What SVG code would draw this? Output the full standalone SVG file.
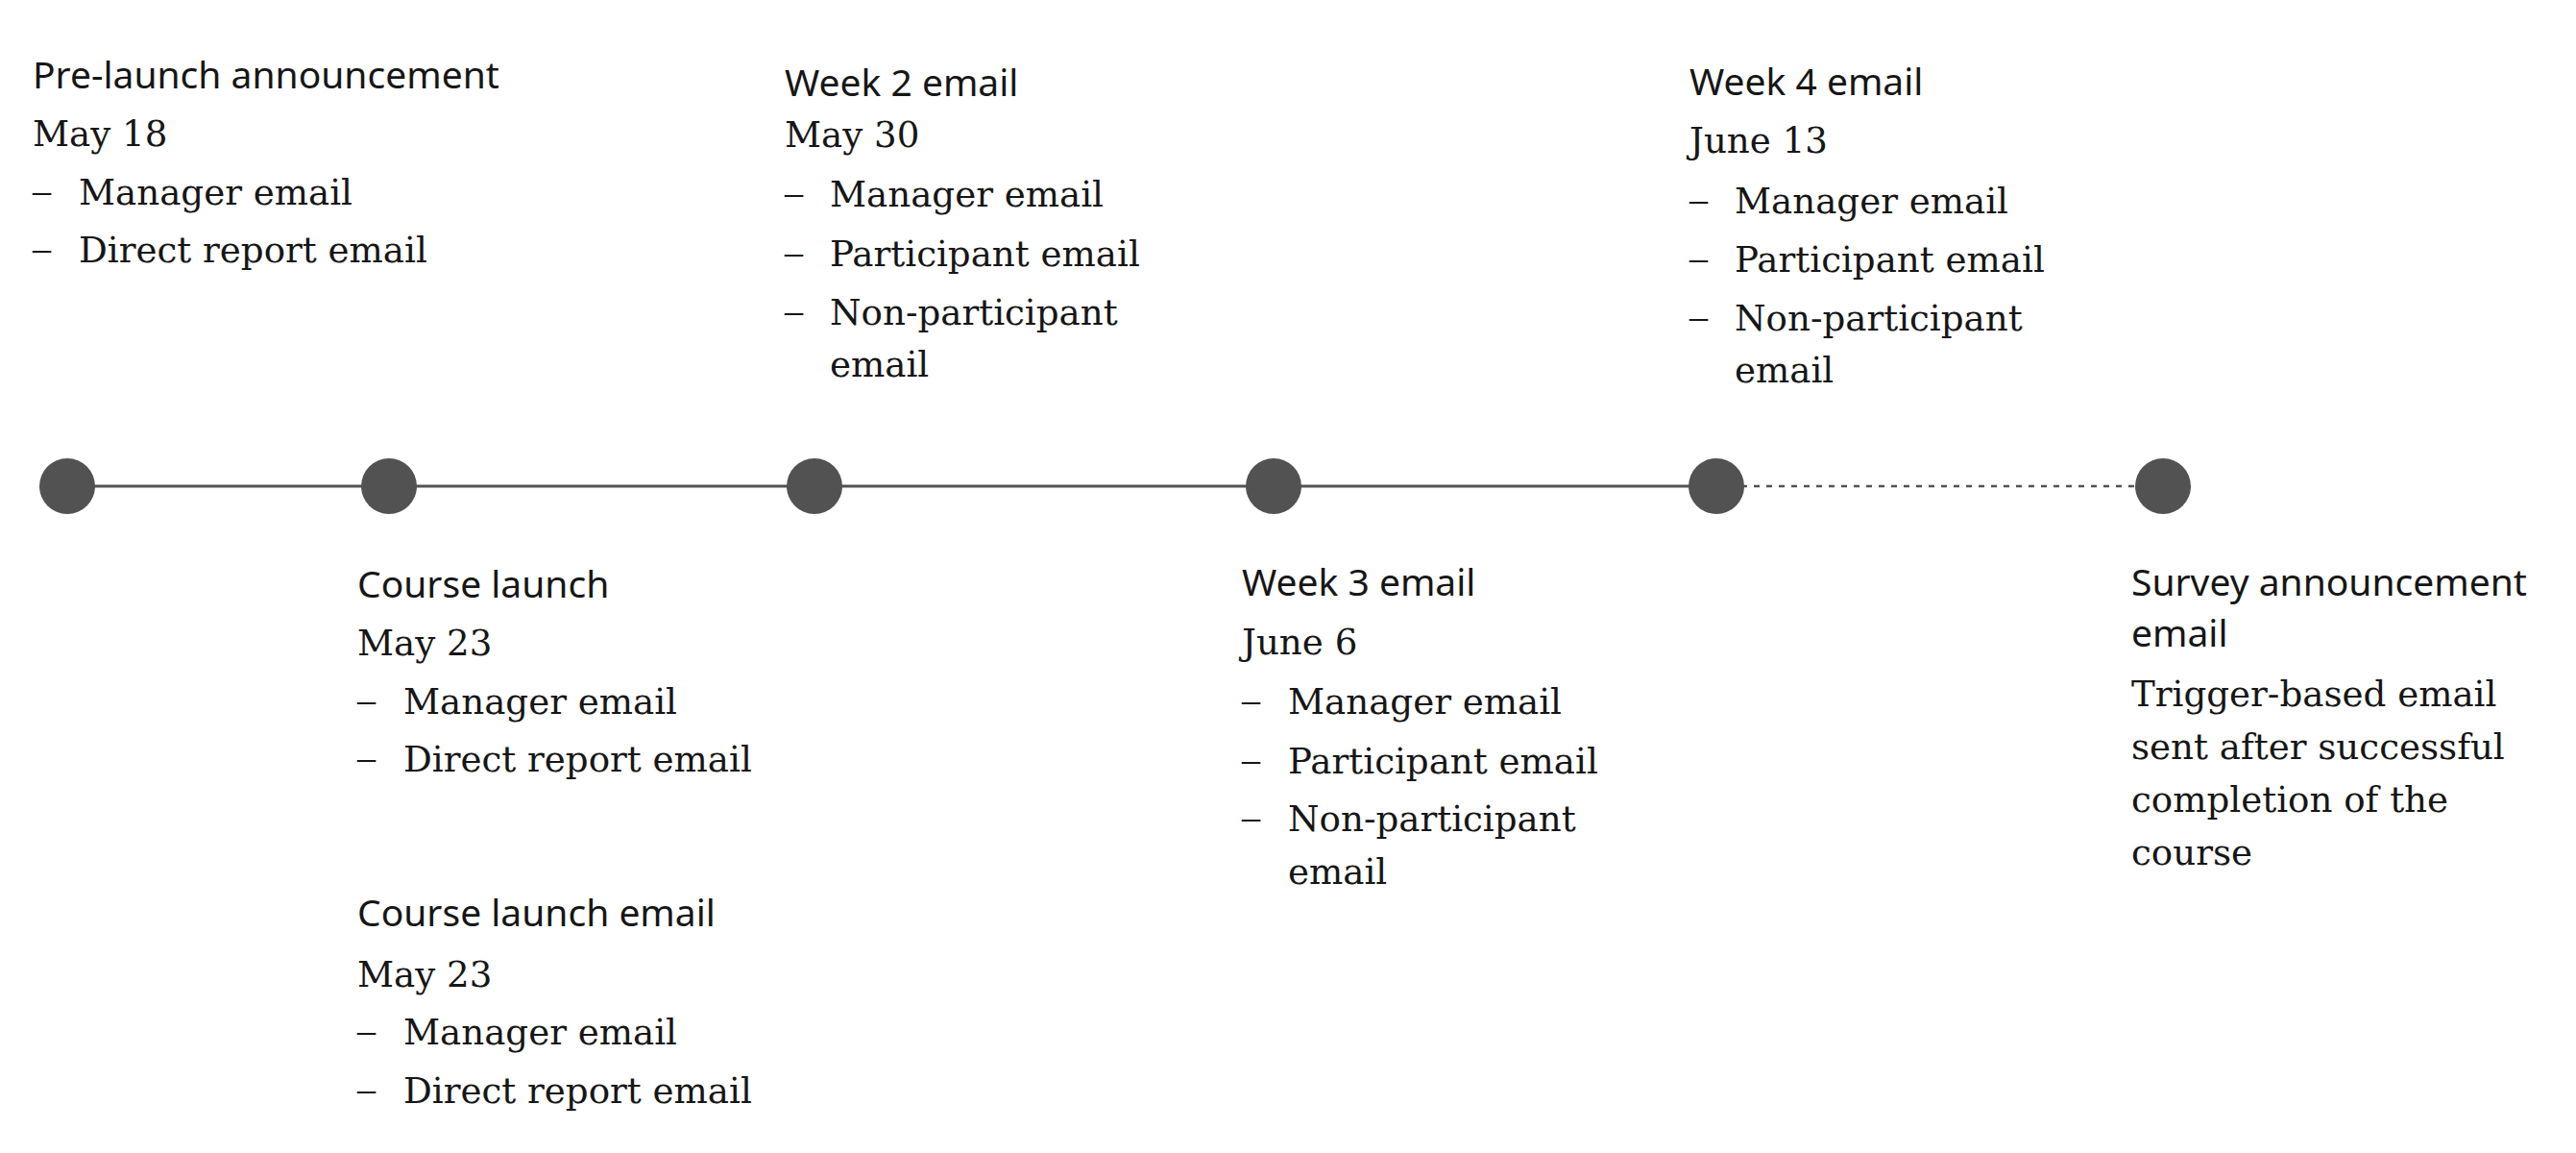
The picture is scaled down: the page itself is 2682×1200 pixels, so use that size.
<svg xmlns="http://www.w3.org/2000/svg" width="2682" height="1200" viewBox="0 0 2682 1200">
  <style>
    .h { font-family: "Noto Sans", "Open Sans", sans-serif; font-size: 39px; fill: #161616; }
    .b { font-family: "DejaVu Serif", "Liberation Serif", serif; font-size: 37.2px; fill: #161616; }
    .d { font-family: "Liberation Serif", "DejaVu Serif", serif; font-size: 38px; fill: #161616; }
    .dot { fill: #525252; }
    .line { stroke: #525252; stroke-width: 3; fill: none; }
    .dash { stroke: #525252; stroke-width: 2.5; fill: none; stroke-dasharray: 6 7; }
  </style>
  <rect width="2682" height="1200" fill="#ffffff"/>
  <g id="connectors">
    <line class="line" x1="70" y1="506" x2="1787" y2="506"/>
    <line class="dash" x1="1787" y1="506" x2="2252" y2="506"/>
  </g>
  <g id="node-prelaunch">
    <circle class="dot" cx="70" cy="506" r="29"/>
    <text class="h" x="34" y="92">Pre-launch announcement</text>
    <text class="b" x="34" y="152">May 18</text>
    <text class="d" x="34" y="211">–</text><text class="b" x="82" y="213">Manager email</text>
    <text class="d" x="34" y="271">–</text><text class="b" x="82" y="273">Direct report email</text>
  </g>
  <g id="node-course-launch">
    <circle class="dot" cx="405" cy="506" r="29"/>
    <text class="h" x="372" y="622">Course launch</text>
    <text class="b" x="372" y="682">May 23</text>
    <text class="d" x="372" y="741">–</text><text class="b" x="420" y="743">Manager email</text>
    <text class="d" x="372" y="801">–</text><text class="b" x="420" y="803">Direct report email</text>
    <text class="h" x="372" y="964">Course launch email</text>
    <text class="b" x="372" y="1027">May 23</text>
    <text class="d" x="372" y="1085">–</text><text class="b" x="420" y="1087">Manager email</text>
    <text class="d" x="372" y="1146">–</text><text class="b" x="420" y="1148">Direct report email</text>
  </g>
  <g id="node-week2">
    <circle class="dot" cx="848" cy="506" r="29"/>
    <text class="h" x="817" y="100">Week 2 email</text>
    <text class="b" x="817" y="153">May 30</text>
    <text class="d" x="817" y="213">–</text><text class="b" x="864" y="215">Manager email</text>
    <text class="d" x="817" y="275">–</text><text class="b" x="864" y="277">Participant email</text>
    <text class="d" x="817" y="336">–</text><text class="b" x="864" y="338">Non-participant</text>
    <text class="b" x="864" y="392">email</text>
  </g>
  <g id="node-week3">
    <circle class="dot" cx="1326" cy="506" r="29"/>
    <text class="h" x="1293" y="620">Week 3 email</text>
    <text class="b" x="1293" y="681">June 6</text>
    <text class="d" x="1293" y="741">–</text><text class="b" x="1341" y="743">Manager email</text>
    <text class="d" x="1293" y="803">–</text><text class="b" x="1341" y="805">Participant email</text>
    <text class="d" x="1293" y="863">–</text><text class="b" x="1341" y="865">Non-participant</text>
    <text class="b" x="1341" y="920">email</text>
  </g>
  <g id="node-week4">
    <circle class="dot" cx="1787" cy="506" r="29"/>
    <text class="h" x="1759" y="99">Week 4 email</text>
    <text class="b" x="1759" y="159">June 13</text>
    <text class="d" x="1759" y="220">–</text><text class="b" x="1806" y="222">Manager email</text>
    <text class="d" x="1759" y="281">–</text><text class="b" x="1806" y="283">Participant email</text>
    <text class="d" x="1759" y="342">–</text><text class="b" x="1806" y="344">Non-participant</text>
    <text class="b" x="1806" y="398">email</text>
  </g>
  <g id="node-survey">
    <circle class="dot" cx="2252" cy="506" r="29"/>
    <text class="h" x="2219" y="620">Survey announcement</text>
    <text class="h" x="2219" y="673">email</text>
    <text class="b" x="2219" y="735">Trigger-based email</text>
    <text class="b" x="2219" y="790">sent after successful</text>
    <text class="b" x="2219" y="845">completion of the</text>
    <text class="b" x="2219" y="900">course</text>
  </g>
</svg>
